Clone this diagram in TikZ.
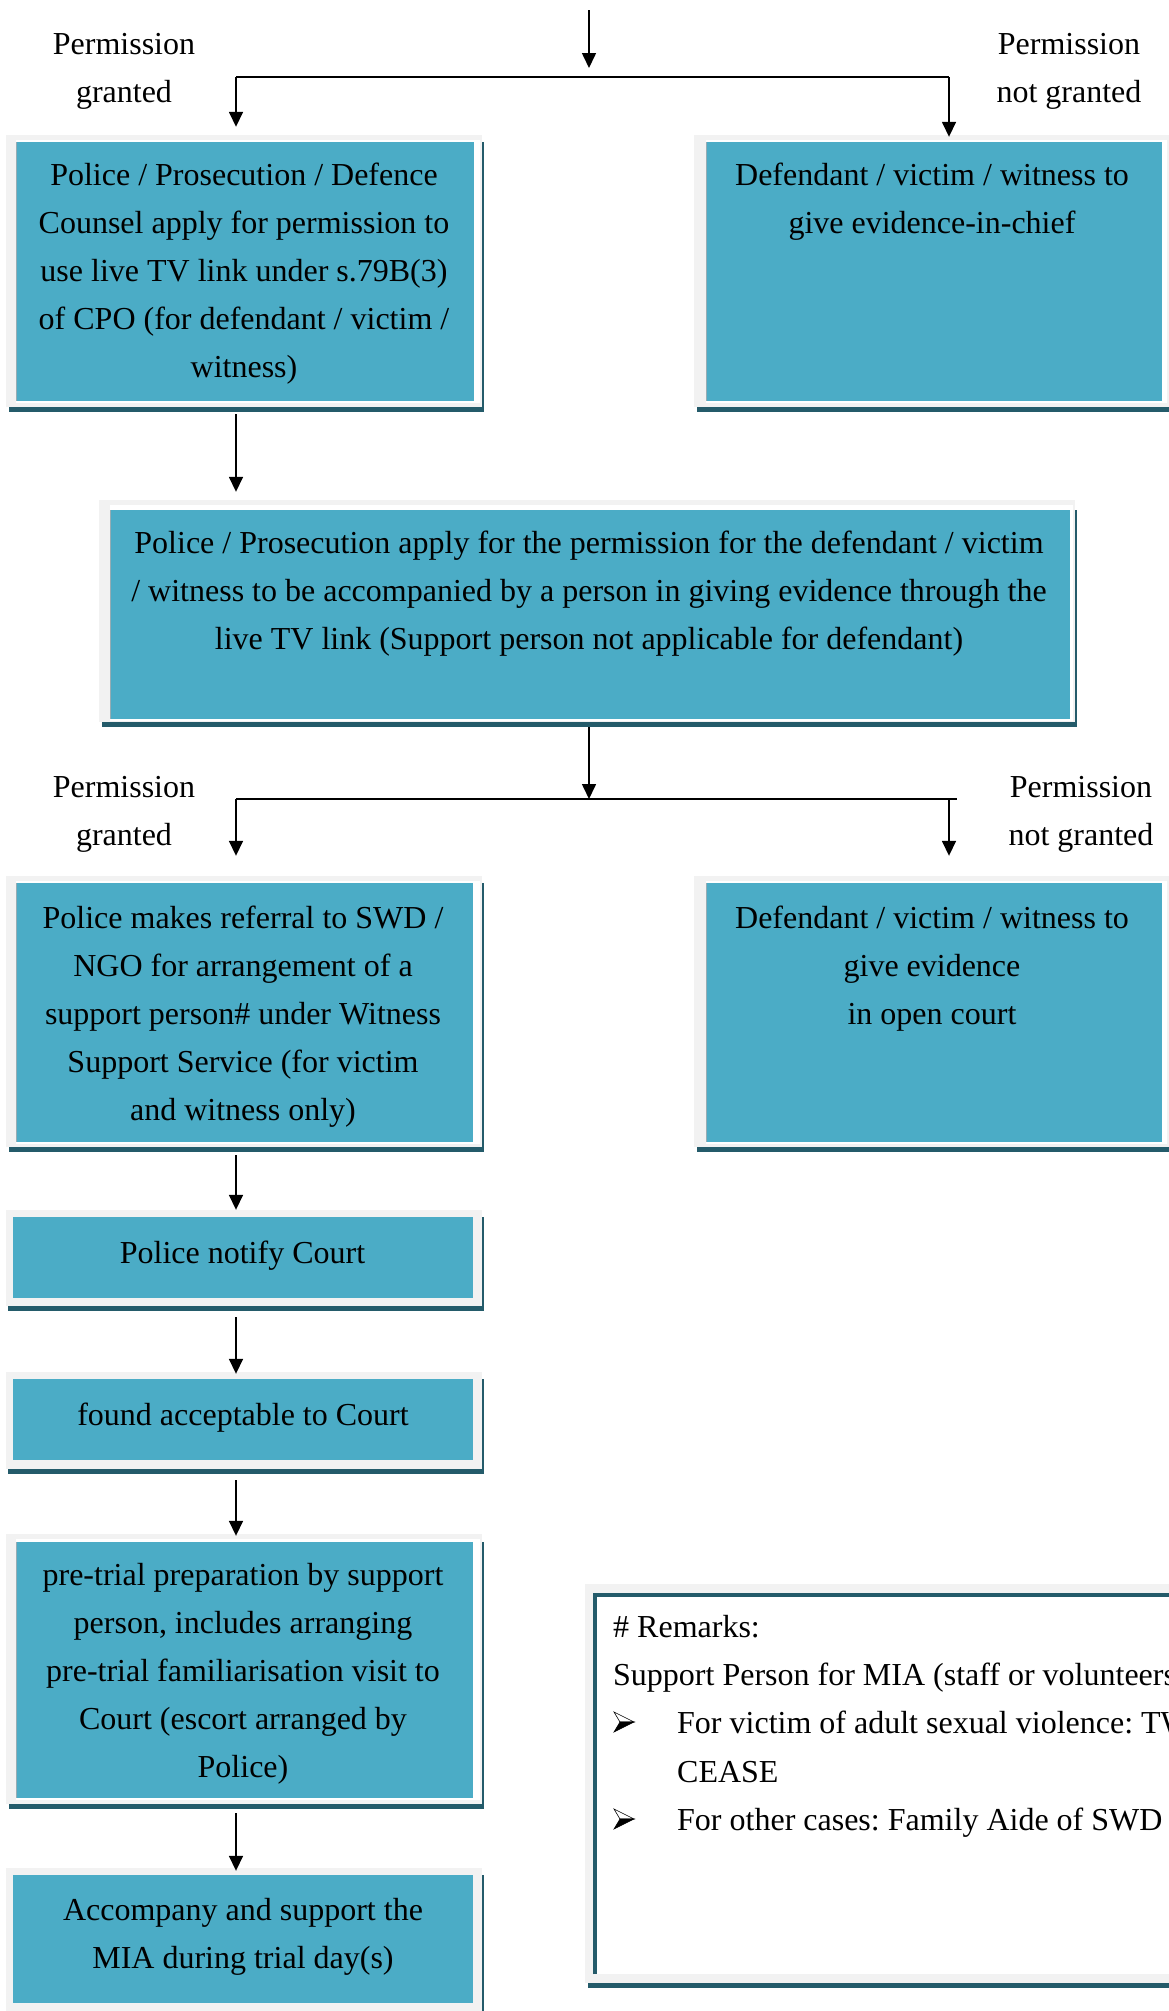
\documentclass[tikz,border=0pt]{standalone}
\usepackage{fontspec}
\setmainfont{Liberation Serif}
\usetikzlibrary{arrows.meta,fit}
\frenchspacing

\definecolor{cardfill}{RGB}{75,172,198}
\definecolor{cardframe}{RGB}{242,242,242}
\definecolor{cardshade}{RGB}{36,91,106}
\definecolor{cardedge}{RGB}{150,172,180}

\tikzset{
  lbl/.style={font=\fontsize{32}{48}\selectfont, inner sep=0pt, align=center, anchor=north},
  note/.style={font=\fontsize{32}{48}\selectfont, inner sep=0pt, anchor=base west},
  flow/.style={line width=1.6pt, -{Triangle[length=15pt,width=14pt]}},
  rule/.style={line width=1.6pt},
  frame/.style={inner sep=0pt, fill=cardframe},
}

% card with a white gap between frame and panel
% #1 name, (#2,#3)-(#4,#5) frame, (#6,#7)-(#8,#9) panel
\newcommand\framedcard[9]{%
  \fill[cardshade] (#2+3,#7) rectangle (#4+2,#5+5);
  \node[frame, fit={(#2,#3) (#4,#5)}] (#1) {};
  \fill[white] (#6-1,#3+5) rectangle (#4-2,#9+2);
  \fill[cardedge] (#6-1,#7) rectangle (#6,#9);
  \fill[cardfill] (#6,#7) rectangle (#8,#9);
}
% card whose panel sits directly on the frame
\newcommand\plaincard[9]{%
  \fill[cardshade] (#2+2,#7) rectangle (#4+2,#5+5);
  \node[frame, fit={(#2,#3) (#4,#5)}] (#1) {};
  \fill[cardfill] (#6,#7) rectangle (#8,#9);
}
% shaded arrowhead bullet: left edge #1, middle height #2
\newcommand\arrowbullet[2]{%
  \filldraw[fill=white, draw=black, line width=0.6pt, line join=miter]
    (#1,#2-10) -- (#1+20,#2) -- (#1+6,#2) -- cycle;
  \filldraw[fill=black, draw=black, line width=0.6pt, line join=miter]
    (#1+6,#2) -- (#1+20,#2) -- (#1,#2+10) -- cycle;
}

\begin{document}
\begin{tikzpicture}[x=1pt, y=-1pt]
\useasboundingbox (0,0) rectangle (1169,2011);
\clip (0,0) rectangle (1169,2011);

% ---------- boxes ----------
\framedcard{cA}{6}{135}{482}{407}{17}{142}{474}{401}
\framedcard{cB}{694}{135}{1169}{407}{707}{142}{1162}{401}
\framedcard{cC}{99}{500}{1075}{722}{111}{510}{1070}{719}
\framedcard{cD}{6}{876}{482}{1147}{17}{883}{473}{1142}
\framedcard{cE}{694}{876}{1169}{1147}{707}{883}{1162}{1142}
\plaincard{cF}{6}{1210}{482}{1306}{13}{1217}{473}{1298}
\plaincard{cG}{6}{1372}{482}{1469}{13}{1379}{473}{1460}
\framedcard{cH}{6}{1534}{482}{1804}{17}{1542}{473}{1798}
\plaincard{cI}{6}{1868}{482}{2014}{13}{1875}{473}{2003}

% remarks panel
\fill[cardshade] (588,1593) rectangle (1175,1988);
\node[frame, fit={(585,1584) (1172,1983)}] (rem) {};
\fill[white] (593,1593) rectangle (1172,1974);
\draw[cardshade, line width=3.5pt] (594.75,1974) -- (594.75,1594.75) -- (1172,1594.75);

% ---------- box texts ----------
\node[lbl] (tA) at (244,151.4) {\strut Police / Prosecution / Defence\\Counsel apply for permission to\\use live TV link under s.79B(3)\\of CPO (for defendant / victim /\\witness)};
\node[lbl] (tB) at (932,151.4) {\strut Defendant / victim / witness to\\give evidence-in-chief};
\node[lbl] (tC) at (589,519.4) {\strut Police / Prosecution apply for the permission for the defendant / victim\\/ witness to be accompanied by a person in giving evidence through the\\live TV link (Support person not applicable for defendant)};
\node[lbl] (tD) at (243,894.4) {\strut Police makes referral to SWD /\\NGO for arrangement of a\\support person\# under Witness\\Support Service (for victim\\and witness only)};
\node[lbl] (tE) at (932,894.4) {\strut Defendant / victim / witness to\\give evidence\\in open court};
\node[lbl] (tF) at (242.5,1229.4) {\strut Police notify Court};
\node[lbl] (tG) at (243,1391.4) {\strut found acceptable to Court};
\node[lbl] (tH) at (243,1551.4) {\strut pre-trial preparation by support\\person, includes arranging\\pre-trial familiarisation visit to\\Court (escort arranged by\\Police)};
\node[lbl] (tI) at (243,1886.4) {\strut Accompany and support the\\MIA during trial day(s)};

% ---------- branch labels ----------
\node[lbl] (yes1) at (124,20.4) {\strut Permission\\granted};
\node[lbl] (no1) at (1069,20.4) {\strut Permission\\not granted};
\node[lbl] (yes2) at (124,763.4) {\strut Permission\\granted};
\node[lbl] (no2) at (1081,763.4) {\strut Permission\\not granted};

% ---------- remarks text ----------
\node[note] (r1) at (613,1637) {\# Remarks:};
\node[note] (r2) at (613,1685) {Support Person for MIA (staff or volunteers):};
\arrowbullet{614}{1722}
\node[note] (r3) at (677,1733) {For victim of adult sexual violence: TWGHs};
\node[note] (r4) at (677,1782) {CEASE};
\arrowbullet{614}{1819}
\node[note] (r5) at (677,1830) {For other cases: Family Aide of SWD};

% ---------- connectors ----------
\coordinate (colL) at (236,0);
\coordinate (colR) at (949,0);
\coordinate (entry) at (589,10);
\coordinate (fork1) at (589,77);
\coordinate (fork2) at (589,799);

\draw[flow, shorten >=9pt] (entry) -- (fork1);
\draw[rule] (fork1 -| colL) -- (fork1 -| colR);
\draw[flow, shorten >=8pt] (fork1 -| colL) -- (cA.north -| colL);
\draw[flow, shorten >=-2pt] (fork1 -| colR) -- (cB.north -| colR);

\draw[flow, shorten <=7pt, shorten >=8pt] (cA.south -| colL) -- (cC.north -| colL);

\draw[flow, shorten <=5pt] (cC.south -| fork2) -- (fork2);
\draw[rule] (fork2 -| colL) -- ([xshift=8pt]fork2 -| colR);
\draw[flow, shorten >=20pt] (fork2 -| colL) -- (cD.north -| colL);
\draw[flow, shorten >=20pt] (fork2 -| colR) -- (cE.north -| colR);

\draw[flow, shorten <=8pt] (cD.south -| colL) -- (cF.north -| colL);
\draw[flow, shorten <=11pt, shorten >=-2pt] (cF.south -| colL) -- (cG.north -| colL);
\draw[flow, shorten <=11pt, shorten >=-2pt] (cG.south -| colL) -- (cH.north -| colL);
\draw[flow, shorten <=9pt, shorten >=-3pt] (cH.south -| colL) -- (cI.north -| colL);
\end{tikzpicture}
\end{document}
